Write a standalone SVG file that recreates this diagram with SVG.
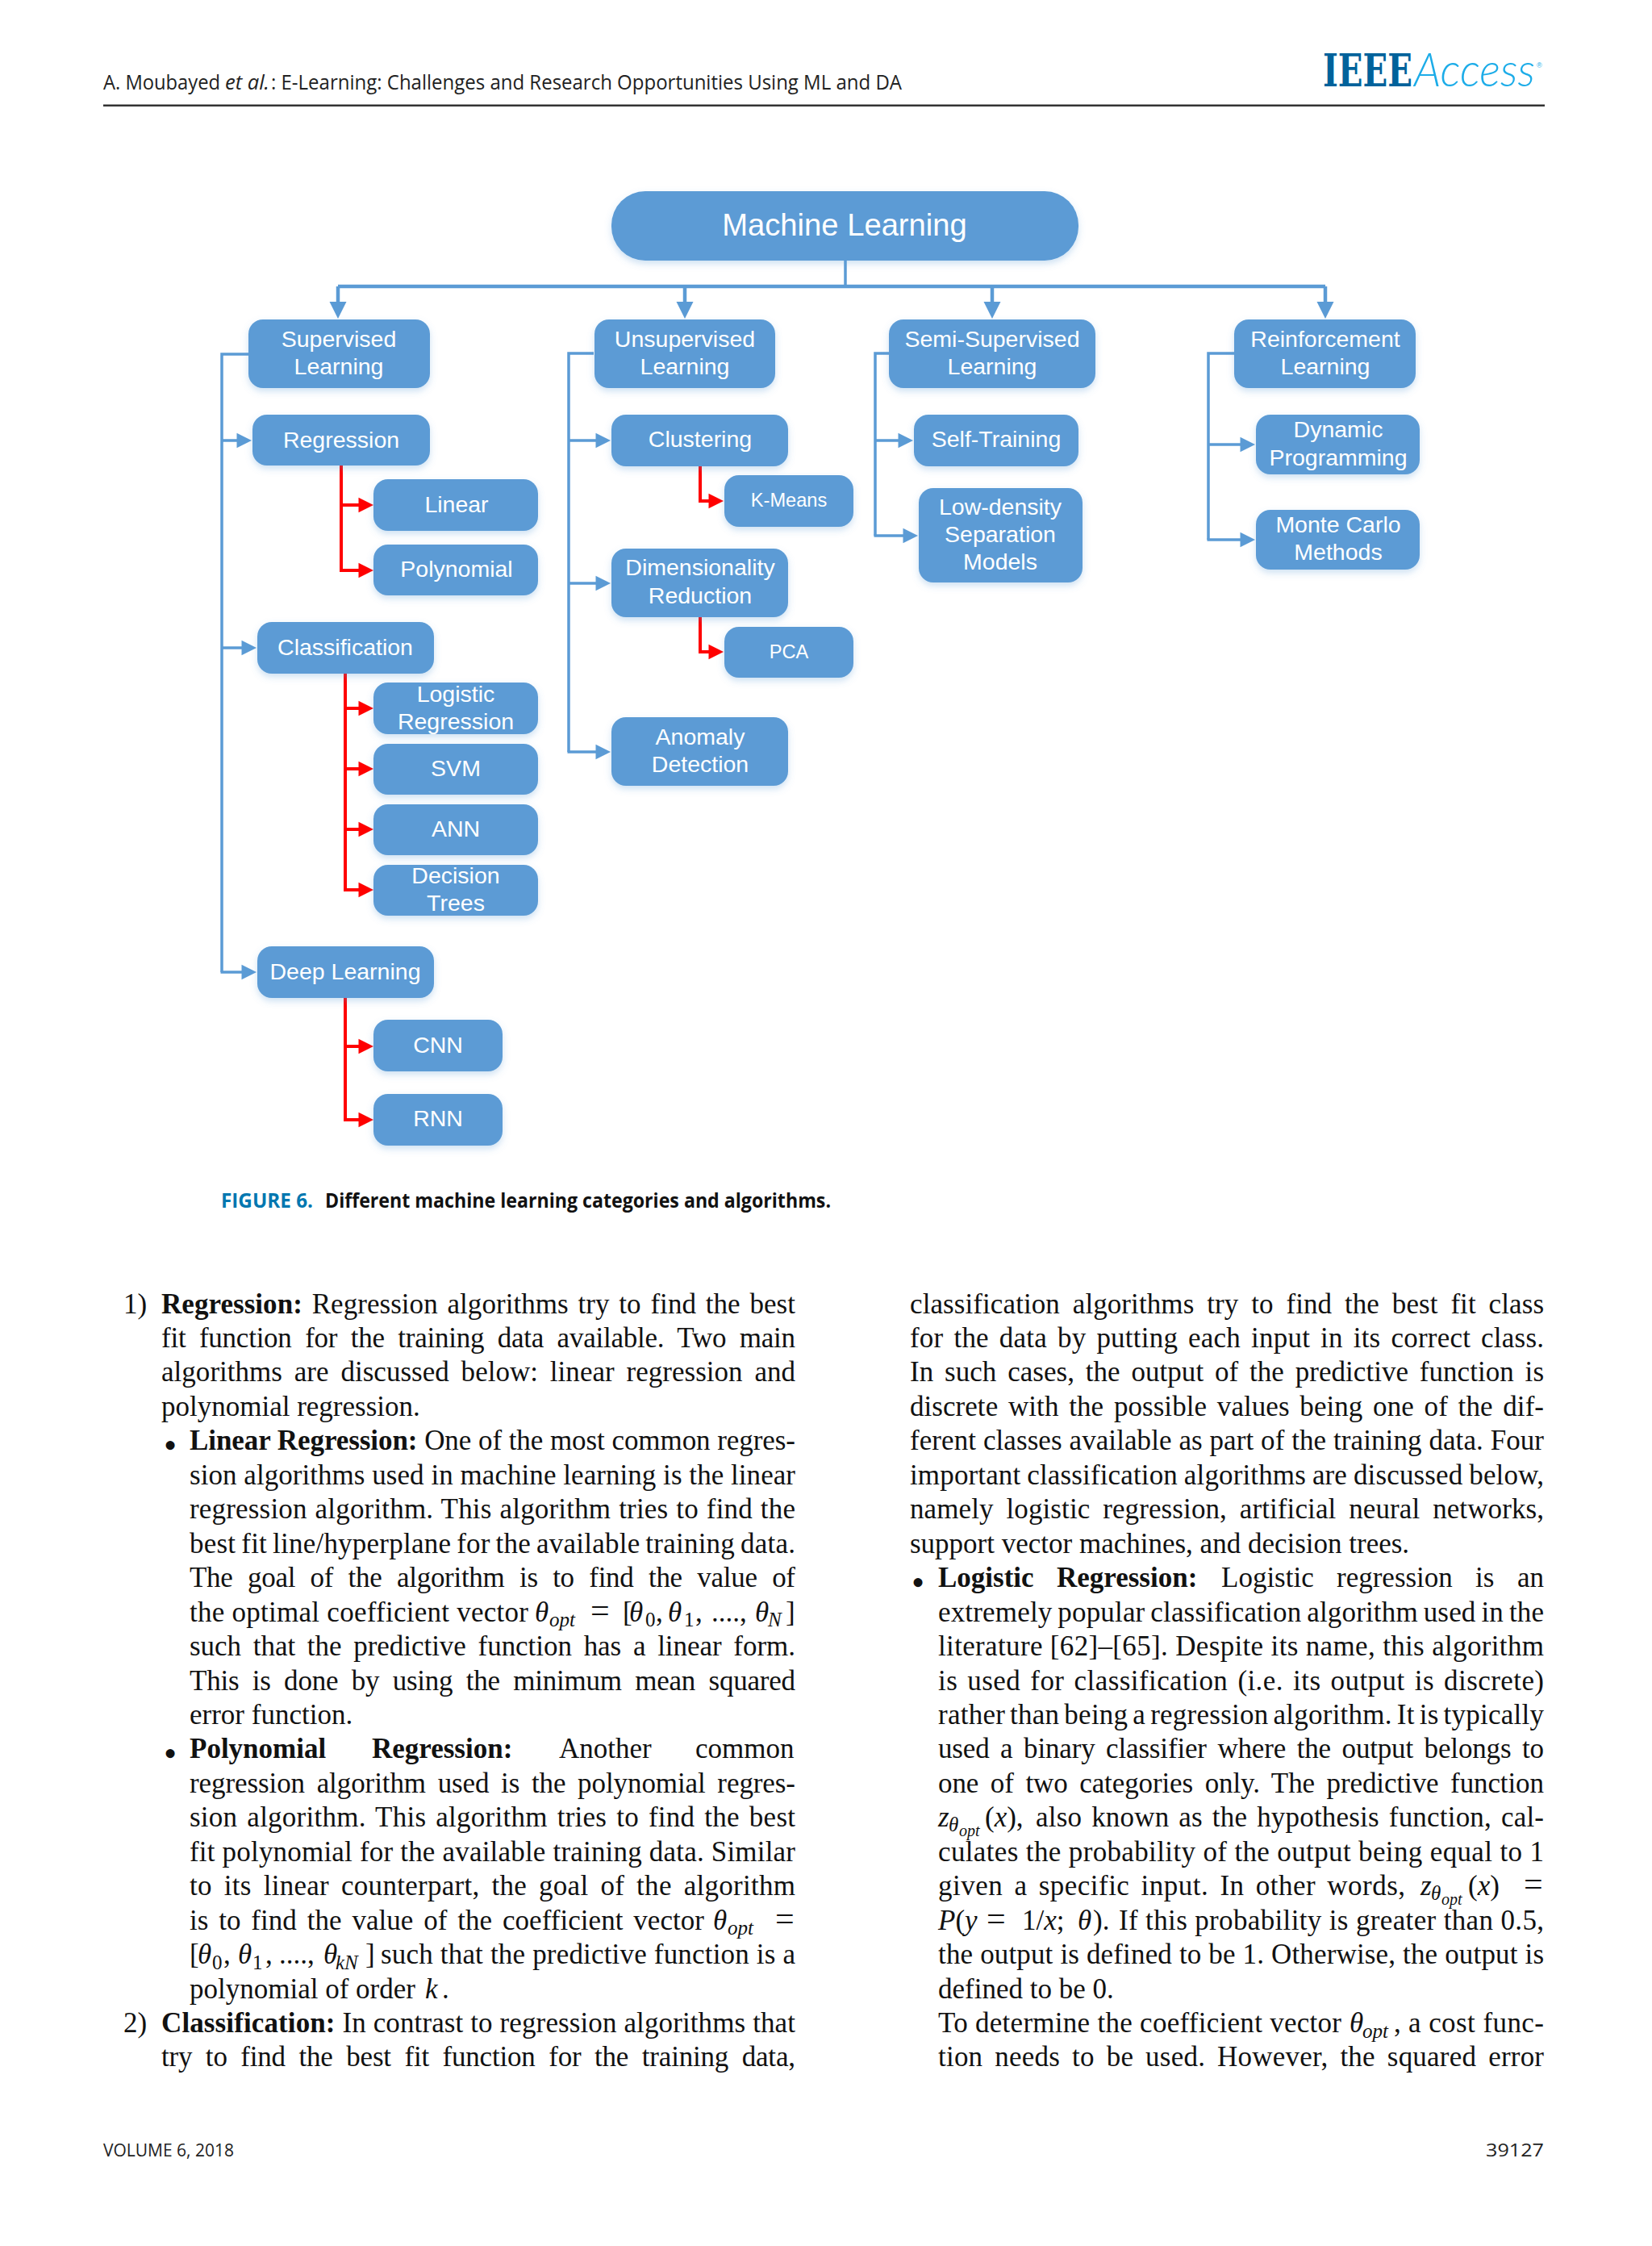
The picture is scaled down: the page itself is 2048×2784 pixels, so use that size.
<svg xmlns="http://www.w3.org/2000/svg" width="2048" height="2784" viewBox="0 0 2048 2784">
<style>
.n{fill:#5b9bd5;filter:url(#sh)}
.t{font-family:"Liberation Sans",Arial,sans-serif;font-size:28.5px;fill:#fff;text-anchor:middle}
.s{font-size:23.6px}
.bl{fill:none;stroke:#5b9bd5;stroke-width:3.5}
.tp{fill:none;stroke:#5b9bd5;stroke-width:4.5}
.rd{fill:none;stroke:#f00;stroke-width:4}
.b{font-family:"Liberation Serif","Times New Roman",serif;font-size:35px;fill:#111}
.i{font-style:italic}
.u{font-size:25px;font-style:italic}
.v{font-size:25px}
.e{font-size:42px}
.d{font-size:46px}
.h{font-family:"Open Sans","Noto Sans",sans-serif;font-size:25px;fill:#222}
.c{font-family:"Open Sans","Noto Sans",sans-serif;font-size:25px;font-weight:700;fill:#111}
</style>
<defs>
<filter id="sh" x="-10%" y="-10%" width="120%" height="135%"><feDropShadow dx="0" dy="4" stdDeviation="4" flood-color="#5b9bd5" flood-opacity="0.3"/></filter>
<marker id="at" markerUnits="userSpaceOnUse" markerWidth="24" markerHeight="22" viewBox="0 0 24 22" refX="3" refY="11" orient="auto"><path d="M1 0.5L22 11L1 21.5Z" fill="#5b9bd5"/></marker>
<marker id="ab" markerUnits="userSpaceOnUse" markerWidth="20" markerHeight="20" viewBox="0 0 20 20" refX="3" refY="10" orient="auto"><path d="M0.5 0.75L19 10L0.5 19.25Z" fill="#5b9bd5"/></marker>
<marker id="ar" markerUnits="userSpaceOnUse" markerWidth="20" markerHeight="20" viewBox="0 0 20 20" refX="3" refY="10" orient="auto"><path d="M0.5 0.75L19 10L0.5 19.25Z" fill="#f00"/></marker>
</defs>
<rect width="2048" height="2784" fill="#fff"/>
<g id="header">
<text class="h" x="128" y="111" textLength="145" lengthAdjust="spacingAndGlyphs">A. Moubayed</text>
<text class="h" x="279" y="111" font-style="italic" textLength="55" lengthAdjust="spacingAndGlyphs">et al.</text>
<text class="h" x="336" y="111" textLength="782" lengthAdjust="spacingAndGlyphs">: E-Learning: Challenges and Research Opportunities Using ML and DA</text>
<rect x="128" y="129.5" width="1787" height="2.5" fill="#333"/>
<text transform="translate(1640 107) scale(.72 1)" font-family="DejaVu Serif,Liberation Serif,serif" font-weight="700" font-size="56" fill="#00629b">IEEE</text>
<text x="1753" y="107" font-family="Lato,Liberation Sans,sans-serif" font-weight="300" font-style="italic" font-size="57" fill="#1cace8" textLength="150" lengthAdjust="spacingAndGlyphs">Access</text>
<text x="1905" y="84" font-family="Liberation Sans,sans-serif" font-size="9" fill="#1cace8">®</text>
</g>
<g id="connectors">
<path class="bl" d="M1048 323V355"/>
<path class="tp" d="M419 355H1643"/>
<path class="tp" marker-end="url(#at)" d="M419 355V376"/>
<path class="tp" marker-end="url(#at)" d="M849 355V376"/>
<path class="tp" marker-end="url(#at)" d="M1230 355V376"/>
<path class="tp" marker-end="url(#at)" d="M1643 355V376"/>
<path class="bl" d="M309 439H275V1205"/>
<path class="bl" marker-end="url(#ab)" d="M275 546H296"/>
<path class="bl" marker-end="url(#ab)" d="M275 803H302"/>
<path class="bl" marker-end="url(#ab)" d="M273.500 1205H302"/>
<path class="bl" d="M736 438H705V932"/>
<path class="bl" marker-end="url(#ab)" d="M705 546H741"/>
<path class="bl" marker-end="url(#ab)" d="M705 723H741"/>
<path class="bl" marker-end="url(#ab)" d="M703.500 932H741"/>
<path class="bl" d="M1102 438H1085V664"/>
<path class="bl" marker-end="url(#ab)" d="M1085 546H1116"/>
<path class="bl" marker-end="url(#ab)" d="M1083.500 664H1122"/>
<path class="bl" d="M1530 438H1498V669"/>
<path class="bl" marker-end="url(#ab)" d="M1498 551H1540"/>
<path class="bl" marker-end="url(#ab)" d="M1496.500 669H1540"/>
<path class="rd" d="M423 577V707"/>
<path class="rd" marker-end="url(#ar)" d="M423 626H447"/>
<path class="rd" marker-end="url(#ar)" d="M421 707H447"/>
<path class="rd" d="M428 835V1103"/>
<path class="rd" marker-end="url(#ar)" d="M428 878H447"/>
<path class="rd" marker-end="url(#ar)" d="M428 953H447"/>
<path class="rd" marker-end="url(#ar)" d="M428 1028H447"/>
<path class="rd" marker-end="url(#ar)" d="M426 1103H447"/>
<path class="rd" d="M428 1237V1388"/>
<path class="rd" marker-end="url(#ar)" d="M428 1297H447"/>
<path class="rd" marker-end="url(#ar)" d="M426 1388H447"/>
<path class="rd" marker-end="url(#ar)" d="M868 578V621H881"/>
<path class="rd" marker-end="url(#ar)" d="M868 765V808H881"/>
</g>
<g id="machine-learning"><rect class="n" x="758" y="237" width="579" height="86" rx="42"/><text class="t" style="font-size:38.2px" x="1047" y="292">Machine Learning</text></g>
<g id="supervised"><rect class="n" x="308" y="396" width="225" height="85" rx="18"/><text class="t" x="420" y="430">Supervised</text><text class="t" x="420" y="464">Learning</text></g>
<g id="unsupervised"><rect class="n" x="737" y="396" width="224" height="85" rx="18"/><text class="t" x="849" y="430">Unsupervised</text><text class="t" x="849" y="464">Learning</text></g>
<g id="semi-supervised"><rect class="n" x="1102" y="396" width="256" height="85" rx="18"/><text class="t" x="1230" y="430">Semi-Supervised</text><text class="t" x="1230" y="464">Learning</text></g>
<g id="reinforcement"><rect class="n" x="1530" y="396" width="225" height="85" rx="18"/><text class="t" x="1643" y="430">Reinforcement</text><text class="t" x="1643" y="464">Learning</text></g>
<g id="regression"><rect class="n" x="313" y="514" width="220" height="63" rx="18"/><text class="t" x="423" y="555">Regression</text></g>
<g id="linear"><rect class="n" x="463" y="594" width="204" height="64" rx="18"/><text class="t" x="566" y="635">Linear</text></g>
<g id="polynomial"><rect class="n" x="463" y="675" width="204" height="63" rx="18"/><text class="t" x="566" y="715">Polynomial</text></g>
<g id="classification"><rect class="n" x="319" y="771" width="219" height="64" rx="18"/><text class="t" x="428" y="812">Classification</text></g>
<g id="logistic"><rect class="n" x="463" y="846" width="204" height="64" rx="18"/><text class="t" x="565" y="870">Logistic</text><text class="t" x="565" y="904">Regression</text></g>
<g id="svm"><rect class="n" x="463" y="922" width="204" height="63" rx="18"/><text class="t" x="565" y="962">SVM</text></g>
<g id="ann"><rect class="n" x="463" y="997" width="204" height="63" rx="18"/><text class="t" x="565" y="1037">ANN</text></g>
<g id="decision"><rect class="n" x="463" y="1072" width="204" height="63" rx="18"/><text class="t" x="565" y="1095">Decision</text><text class="t" x="565" y="1129">Trees</text></g>
<g id="deep-learning"><rect class="n" x="319" y="1173" width="219" height="64" rx="18"/><text class="t" x="428" y="1214">Deep Learning</text></g>
<g id="cnn"><rect class="n" x="463" y="1264" width="160" height="64" rx="18"/><text class="t" x="543" y="1305">CNN</text></g>
<g id="rnn"><rect class="n" x="463" y="1356" width="160" height="64" rx="18"/><text class="t" x="543" y="1396">RNN</text></g>
<g id="clustering"><rect class="n" x="758" y="514" width="219" height="64" rx="18"/><text class="t" x="868" y="554">Clustering</text></g>
<g id="k-means"><rect class="n" x="898" y="589" width="160" height="64" rx="18"/><text class="t s" x="978" y="628">K-Means</text></g>
<g id="dimensionality"><rect class="n" x="758" y="680" width="219" height="85" rx="18"/><text class="t" x="868" y="713">Dimensionality</text><text class="t" x="868" y="748">Reduction</text></g>
<g id="pca"><rect class="n" x="898" y="777" width="160" height="63" rx="18"/><text class="t s" x="978" y="816">PCA</text></g>
<g id="anomaly"><rect class="n" x="758" y="889" width="219" height="85" rx="18"/><text class="t" x="868" y="923">Anomaly</text><text class="t" x="868" y="957">Detection</text></g>
<g id="self-training"><rect class="n" x="1133" y="514" width="204" height="64" rx="18"/><text class="t" x="1235" y="554">Self-Training</text></g>
<g id="low-density"><rect class="n" x="1139" y="605" width="203" height="117" rx="18"/><text class="t" x="1240" y="638">Low-density</text><text class="t" x="1240" y="672">Separation</text><text class="t" x="1240" y="706">Models</text></g>
<g id="dynamic"><rect class="n" x="1557" y="514" width="203" height="74" rx="18"/><text class="t" x="1659" y="542">Dynamic</text><text class="t" x="1659" y="577">Programming</text></g>
<g id="monte-carlo"><rect class="n" x="1557" y="632" width="203" height="74" rx="18"/><text class="t" x="1659" y="660">Monte Carlo</text><text class="t" x="1659" y="694">Methods</text></g>
<g id="caption">
<text class="c" x="274" y="1497" style="fill:#0077b0" textLength="114" lengthAdjust="spacingAndGlyphs">FIGURE 6.</text>
<text class="c" x="403" y="1497" textLength="627" lengthAdjust="spacingAndGlyphs">Different machine learning categories and algorithms.</text>
</g>
<g id="left-column">
<text class="b" x="153" y="1627.5">1)</text>
<text class="b" x="200" y="1627.5" textLength="786" word-spacing="3"><tspan font-weight="700">Regression:</tspan> Regression algorithms try to find the best</text>
<text class="b" x="200" y="1670" textLength="786" word-spacing="8">fit function for the training data available. Two main</text>
<text class="b" x="200" y="1712.4" textLength="786" word-spacing="6">algorithms are discussed below: linear regression and</text>
<text class="b" x="200" y="1754.900">polynomial regression.</text>
<text class="b d" x="203" y="1807">•</text>
<text class="b" x="235" y="1797.3" textLength="751"><tspan font-weight="700">Linear Regression:</tspan> One of the most common regres-</text>
<text class="b" x="235" y="1839.8" textLength="751">sion algorithms used in machine learning is the linear</text>
<text class="b" x="235" y="1882.2" textLength="751" word-spacing="1">regression algorithm. This algorithm tries to find the</text>
<text class="b" x="235" y="1924.7" textLength="751" word-spacing="-2">best fit line/hyperplane for the available training data.</text>
<text class="b" x="235" y="1967.1" textLength="751" word-spacing="10">The goal of the algorithm is to find the value of</text>
<text class="b" x="235" y="2009.6" textLength="420">the optimal coefficient vector</text>
<text class="b i" x="663" y="2009.6">θ</text><text class="b u" x="681" y="2016">opt</text>
<text class="b e" x="732" y="2009.6">=</text><text class="b" x="772" y="2009.6">[</text>
<text class="b i" x="780" y="2009.6">θ</text><text class="b v" x="800" y="2016">0</text><text class="b" x="813" y="2009.6">,</text>
<text class="b i" x="828" y="2009.6">θ</text><text class="b v" x="848" y="2016">1</text><text class="b" x="862" y="2009.6">,</text>
<text class="b" x="882" y="2009.6">....,</text>
<text class="b i" x="936" y="2009.6">θ</text><text class="b u" x="952" y="2016">N</text><text class="b" x="974" y="2009.6">]</text>
<text class="b" x="235" y="2052" textLength="751" word-spacing="6">such that the predictive function has a linear form.</text>
<text class="b" x="235" y="2094.5" textLength="751" word-spacing="8">This is done by using the minimum mean squared</text>
<text class="b" x="235" y="2136.9">error function.</text>
<text class="b d" x="203" y="2189">•</text>
<text class="b" x="235" y="2179.4" font-weight="700">Polynomial</text><text class="b" x="461" y="2179.4" font-weight="700">Regression:</text><text class="b" x="693" y="2179.4">Another</text><text class="b" x="862" y="2179.4">common</text>
<text class="b" x="235" y="2221.8" textLength="751" word-spacing="6">regression algorithm used is the polynomial regres-</text>
<text class="b" x="235" y="2264.3" textLength="751" word-spacing="3">sion algorithm. This algorithm tries to find the best</text>
<text class="b" x="235" y="2306.7" textLength="751">fit polynomial for the available training data. Similar</text>
<text class="b" x="235" y="2349.2" textLength="751" word-spacing="6">to its linear counterpart, the goal of the algorithm</text>
<text class="b" x="235" y="2391.6" textLength="638" word-spacing="4">is to find the value of the coefficient vector</text>
<text class="b i" x="884" y="2391.6">θ</text><text class="b u" x="902" y="2398">opt</text><text class="b e" x="961" y="2391.6">=</text>
<text class="b" x="235" y="2434.1">[</text><text class="b i" x="245" y="2434.1">θ</text><text class="b v" x="263" y="2440.5">0</text><text class="b" x="277" y="2434.1">,</text>
<text class="b i" x="295" y="2434.1">θ</text><text class="b v" x="313" y="2440.5">1</text><text class="b" x="329" y="2434.1">,</text>
<text class="b" x="346" y="2434.1">....,</text>
<text class="b i" x="401" y="2434.1">θ</text><text class="b u" x="416" y="2440.5">kN</text><text class="b" x="453" y="2434.1">]</text>
<text class="b" x="472" y="2434.1" textLength="514">such that the predictive function is a</text>
<text class="b" x="235" y="2476.5">polynomial of order</text><text class="b i" x="527" y="2476.5">k</text><text class="b" x="548" y="2476.5">.</text>
<text class="b" x="153" y="2519">2)</text>
<text class="b" x="200" y="2519" textLength="786"><tspan font-weight="700">Classification:</tspan> In contrast to regression algorithms that</text>
<text class="b" x="200" y="2561.4" textLength="786" word-spacing="8">try to find the best fit function for the training data,</text>
</g>
<g id="right-column">
<text class="b" x="1128" y="1627.5" textLength="786" word-spacing="7">classification algorithms try to find the best fit class</text>
<text class="b" x="1128" y="1670" textLength="786" word-spacing="4">for the data by putting each input in its correct class.</text>
<text class="b" x="1128" y="1712.4" textLength="786" word-spacing="5">In such cases, the output of the predictive function is</text>
<text class="b" x="1128" y="1754.9" textLength="786" word-spacing="4">discrete with the possible values being one of the dif-</text>
<text class="b" x="1128" y="1797.3" textLength="786">ferent classes available as part of the training data. Four</text>
<text class="b" x="1128" y="1839.8" textLength="786" word-spacing="-1">important classification algorithms are discussed below,</text>
<text class="b" x="1128" y="1882.2" textLength="786" word-spacing="7">namely logistic regression, artificial neural networks,</text>
<text class="b" x="1128" y="1924.7">support vector machines, and decision trees.</text>
<text class="b d" x="1130" y="1977">•</text>
<text class="b" x="1163" y="1967.1" font-weight="700">Logistic</text><text class="b" x="1310" y="1967.1" font-weight="700">Regression:</text><text class="b" x="1514" y="1967.1">Logistic</text><text class="b" x="1657" y="1967.1">regression</text><text class="b" x="1829" y="1967.1">is</text><text class="b" x="1881" y="1967.1">an</text>
<text class="b" x="1163" y="2009.6" textLength="751" word-spacing="-2">extremely popular classification algorithm used in the</text>
<text class="b" x="1163" y="2052" textLength="751">literature [62]–[65]. Despite its name, this algorithm</text>
<text class="b" x="1163" y="2094.5" textLength="751" word-spacing="3">is used for classification (i.e. its output is discrete)</text>
<text class="b" x="1163" y="2136.9" textLength="751" word-spacing="-3">rather than being a regression algorithm. It is typically</text>
<text class="b" x="1163" y="2179.4" textLength="751" word-spacing="5">used a binary classifier where the output belongs to</text>
<text class="b" x="1163" y="2221.8" textLength="751" word-spacing="6">one of two categories only. The predictive function</text>
<text class="b i" x="1163" y="2264.3">z</text><text class="b i" style="font-size:25px" x="1176" y="2270">θ</text><text class="b i" style="font-size:20px" x="1189" y="2276">opt</text><text class="b" x="1221" y="2264.3">(<tspan font-style="italic">x</tspan>),</text>
<text class="b" x="1284" y="2264.3" textLength="630" word-spacing="3">also known as the hypothesis function, cal-</text>
<text class="b" x="1163" y="2306.7" textLength="751">culates the probability of the output being equal to 1</text>
<text class="b" x="1163" y="2349.2" textLength="579" word-spacing="5">given a specific input. In other words,</text>
<text class="b i" x="1761" y="2349.2">z</text><text class="b i" style="font-size:25px" x="1774" y="2355">θ</text><text class="b i" style="font-size:20px" x="1787" y="2361">opt</text><text class="b" x="1820" y="2349.2">(<tspan font-style="italic">x</tspan>)</text><text class="b e" x="1889" y="2349.2">=</text>
<text class="b" x="1163" y="2391.6"><tspan font-style="italic">P</tspan>(<tspan font-style="italic">y</tspan></text><text class="b e" x="1223" y="2391.6">=</text><text class="b" x="1267" y="2391.6">1/<tspan font-style="italic">x</tspan>;</text><text class="b i" x="1336" y="2391.6">θ</text><text class="b" x="1355" y="2391.6">).</text>
<text class="b" x="1387" y="2391.6" textLength="527">If this probability is greater than 0.5,</text>
<text class="b" x="1163" y="2434.1" textLength="751">the output is defined to be 1. Otherwise, the output is</text>
<text class="b" x="1163" y="2476.5">defined to be 0.</text>
<text class="b" x="1163" y="2519" textLength="500">To determine the coefficient vector</text>
<text class="b i" x="1673" y="2519">θ</text><text class="b u" x="1689" y="2525.5">opt</text><text class="b" x="1728" y="2519">,</text>
<text class="b" x="1746" y="2519" textLength="168">a cost func-</text>
<text class="b" x="1163" y="2561.4" textLength="751" word-spacing="6">tion needs to be used. However, the squared error</text>
</g>
<g id="footer">
<text class="h" style="font-size:22px" x="128" y="2673" textLength="162" lengthAdjust="spacingAndGlyphs">VOLUME 6, 2018</text>
<text class="h" style="font-size:22px" x="1842" y="2673" textLength="72" lengthAdjust="spacingAndGlyphs">39127</text>
</g>
</svg>
